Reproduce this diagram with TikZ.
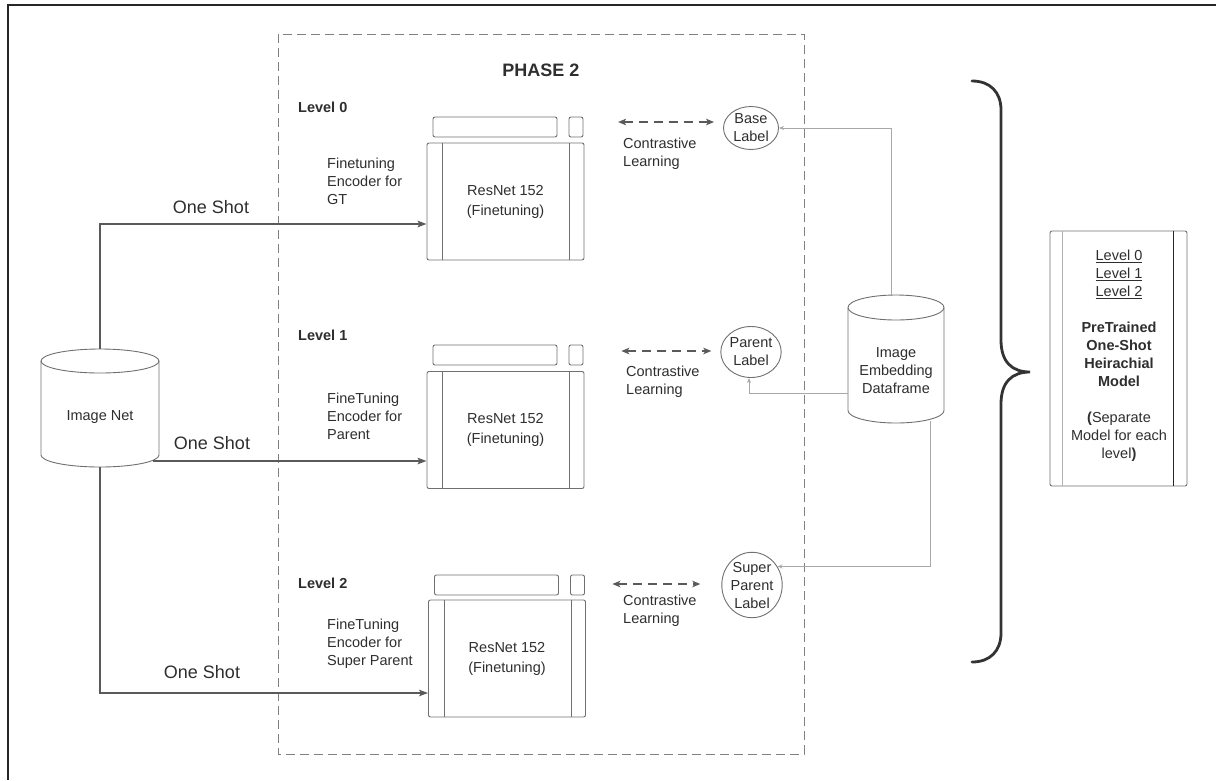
\documentclass[tikz,border=0pt]{standalone}
\usepackage{fontspec}
\setmainfont{Liberation Sans}
\usetikzlibrary{arrows.meta,shapes.geometric}
\definecolor{txt}{HTML}{2E2E2E}
\definecolor{boxc}{HTML}{707070}
\definecolor{arrc}{HTML}{5A5A5A}
\definecolor{thin}{HTML}{A8A8A8}
\begin{document}
\begin{tikzpicture}[x=1pt,y=-1pt,
  every node/.style={text=txt,font=\fontsize{14.5}{18}\selectfont,inner sep=0pt},
  boxline/.style={draw=boxc,line width=0.9pt,rounded corners=2pt},
  bar/.style={boxline,fill=white},
  resbox/.style={boxline,minimum width=157pt,minimum height=117pt,align=center},
  lab/.style={draw=boxc,line width=0.9pt,ellipse,fill=white,align=center},
  oneshot/.style={draw=arrc,line width=2.9pt,-{Stealth[length=9pt,width=6.5pt,inset=2pt]}},
  contr/.style={draw=arrc,line width=2.8pt,dash pattern=on 9pt off 6pt,{Stealth[length=8pt,width=6.5pt,inset=2pt]}-{Stealth[length=8pt,width=6.5pt,inset=2pt]}},
  feed/.style={draw=thin,line width=1pt,-{Stealth[length=5pt,width=4pt]}},
  txtl/.style={align=left,anchor=west},
  lvl/.style={anchor=west,font=\fontsize{14.5}{18}\selectfont\bfseries}
]
\useasboundingbox (0,0) rectangle (1216,780);
% outer frame
\draw[line width=2.2pt,black!85] (8,780) -- (8,5) -- (1216,5);
% phase 2 box
\draw[draw=black!50,line width=0.9pt,dash pattern=on 9pt off 5pt] (278,34) rectangle (804,754);
\node[font=\fontsize{18}{20}\selectfont\bfseries] (phase) at (541,70) {PHASE 2};

% levels
\node[lvl] (lv0) at (298,107) {Level 0};
\node[lvl] (lv1) at (298,335) {Level 1};
\node[lvl] (lv2) at (298,583) {Level 2};

\node[txtl] (ft0) at (327,181) {Finetuning\\Encoder for\\GT};
\node[txtl] (ft1) at (327,416) {FineTuning\\Encoder for\\Parent};
\node[txtl] (ft2) at (327,644) {FineTuning\\Encoder for\\Super Parent};

% ResNet blocks
\foreach \n/\cx/\cy/\by in {0/505.5/201.5/127, 1/505.5/430/355, 2/507/658.5/585}{
  \node[resbox] (res\n) at (\cx,\cy) {ResNet 152\\[2pt](Finetuning)};
  \draw[draw=boxc,line width=0.9pt] ([xshift=16pt]res\n.north west) -- ([xshift=16pt]res\n.south west);
  \draw[draw=boxc,line width=0.9pt] ([xshift=-15pt]res\n.north east) -- ([xshift=-15pt]res\n.south east);
  \node[bar,minimum width=124pt,minimum height=20pt] (bar\n) at (\cx-10.5,\by) {};
  \node[bar,minimum width=14pt,minimum height=20pt] (sq\n) at (\cx+70.5,\by) {};
}

% Image Net cylinder
\draw[boxline,rounded corners=0pt,fill=white] (41,361) -- (41,455) arc[start angle=180,end angle=360,x radius=59pt,y radius=12pt] -- (159,361) arc[start angle=0,end angle=180,x radius=59pt,y radius=12pt] -- cycle;
\draw[boxline,rounded corners=0pt] (41,361) arc[start angle=180,end angle=360,x radius=59pt,y radius=12pt];
\node[minimum width=118pt,minimum height=118pt] (inet) at (100,408) {};
\node (inettxt) at (100,417) {Image Net};
\coordinate (inetout) at (153,461);

% one shot arrows
\draw[oneshot] (inet.north) |- ([yshift=-22.5pt]res0.west);
\draw[oneshot] (inetout) -- (inetout -| res1.west);
\draw[oneshot] (inet.south) |- ([yshift=-34.5pt]res2.west);
\node (os0) at (211,207) {\fontsize{18}{20}\selectfont One Shot};
\node (os1) at (212,443) {\fontsize{18}{20}\selectfont One Shot};
\node (os2) at (202,672) {\fontsize{18}{20}\selectfont One Shot};

% labels
\node[lab,minimum width=55pt,minimum height=43pt] (base) at (751,128) {Base\\Label};
\node[lab,minimum width=55pt,minimum height=51pt] (parent) at (751,352) {Parent\\Label};
\node[lab,minimum width=56pt,minimum height=62pt] (super) at (752,585) {Super\\Parent\\Label};

% contrastive learning
\draw[contr] ([xshift=-105pt,yshift=6pt]base.west) -- ([xshift=-9pt,yshift=6pt]base.west);
\draw[contr] ([xshift=-99pt,yshift=1pt]parent.west) -- ([xshift=-9pt,yshift=1pt]parent.west);
\draw[contr] ([xshift=-109pt,yshift=1pt]super.west) -- ([xshift=-21pt,yshift=1pt]super.west);
\node[txtl] (cl0) at (623,154) {Contrastive\\Learning};
\node[txtl] (cl1) at (626,382) {Contrastive\\Learning};
\node[txtl] (cl2) at (623,611) {Contrastive\\Learning};

% dataframe cylinder
\draw[boxline,rounded corners=0pt,fill=white] (848,307.5) -- (848,410.5) arc[start angle=180,end angle=360,x radius=48pt,y radius=12.5pt] -- (944,307.5) arc[start angle=0,end angle=180,x radius=48pt,y radius=12.5pt] -- cycle;
\draw[boxline,rounded corners=0pt] (848,307.5) arc[start angle=180,end angle=360,x radius=48pt,y radius=12.5pt];
\node[minimum width=96pt,minimum height=128pt] (df) at (896,359) {};
\node[align=center] (dftxt) at (896,371) {Image\\Embedding\\Dataframe};

% feeds
\draw[feed] ([xshift=-5pt]df.north) |- (base.east);
\draw[feed] ([yshift=-34pt]df.west) -| ([xshift=-2pt]parent.south);
\draw[feed] ([xshift=34pt,yshift=2pt]df.south) |- (super.36);

% brace
\draw[line width=2.8pt,black!80,line cap=round]
  (972,81) .. controls (990,81) and (1001,92) .. (1001,110)
  -- (1001,340) .. controls (1001,362) and (1012,372) .. (1030,372)
  .. controls (1012,372) and (1001,382) .. (1001,404)
  -- (1001,633) .. controls (1001,651) and (990,662) .. (972,662);

% right box
\node[boxline,minimum width=137pt,minimum height=255pt] (model) at (1118.5,358.5) {};
\draw[draw=black!30,line width=0.9pt] ([xshift=13pt]model.north west) -- ([xshift=13pt]model.south west);
\draw[draw=black!85,line width=1pt] ([xshift=-14pt]model.north east) -- ([xshift=-14pt]model.south east);
\node[align=center] (modeltxt) at (1119,356) {\underline{Level 0}\\\underline{Level 1}\\\underline{Level 2}\\[18pt]\textbf{PreTrained}\\\textbf{One-Shot}\\\textbf{Heirachial}\\\textbf{Model}\\[18pt]\textbf{(}Separate\\Model for each\\level\textbf{)}};
\end{tikzpicture}
\end{document}
